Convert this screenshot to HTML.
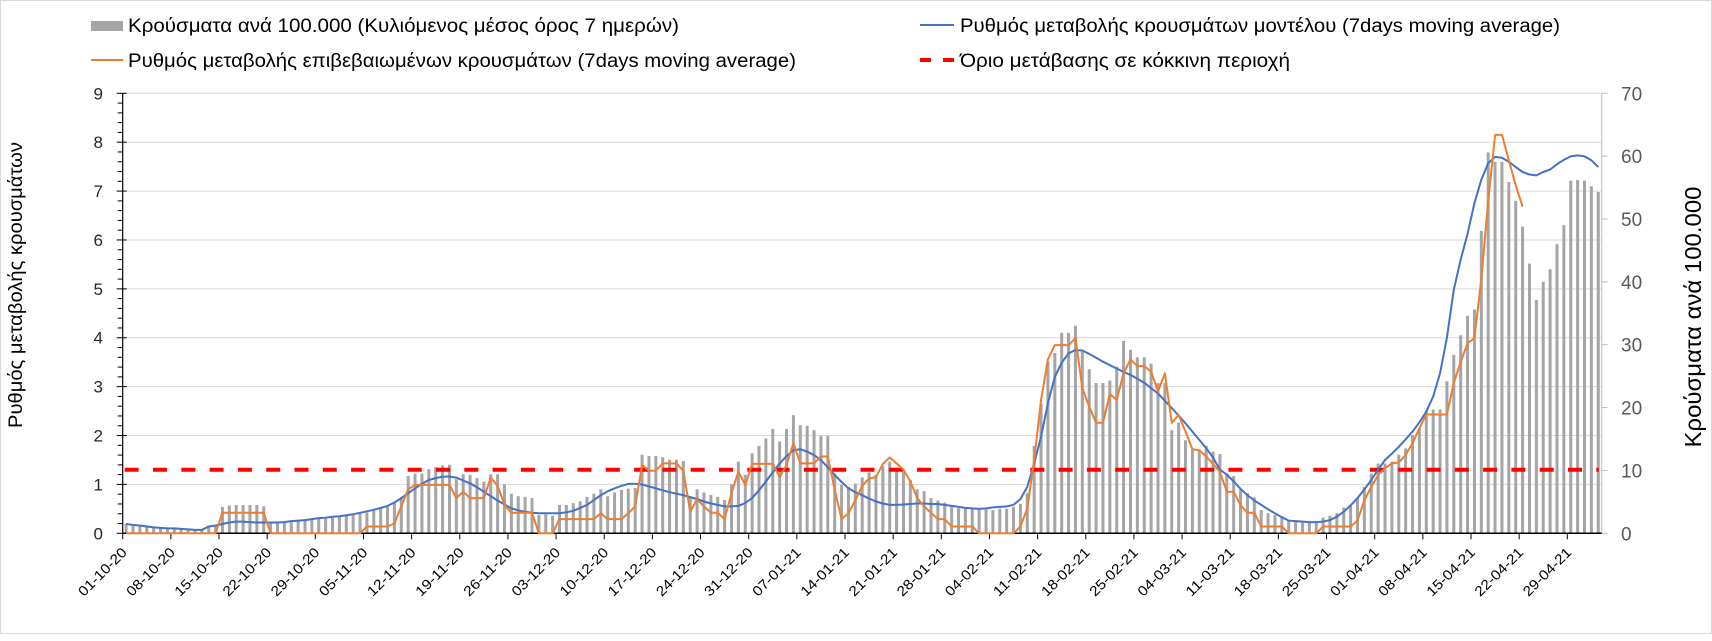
<!DOCTYPE html>
<html><head><meta charset="utf-8">
<style>
html,body{margin:0;padding:0;background:#fff;}
svg{display:block;font-family:"Liberation Sans","Noto Sans CJK SC",sans-serif;}
</style></head>
<body>
<svg id="chart" width="1712" height="641" viewBox="0 0 1712 641" xmlns="http://www.w3.org/2000/svg">
  <rect x="0.5" y="0.5" width="1711" height="633" fill="#fff" stroke="#d9d9d9"/>
  <g id="grid"></g>
  <g id="bars"></g>
  <g id="axes"></g>
  <g id="lines"></g>
  <g id="legend">
    <g>
      <rect x="91" y="21" width="32" height="10" fill="#a5a5a5"/>
      <text x="128" y="32" font-size="19" fill="#000" textLength="551" lengthAdjust="spacingAndGlyphs">Κρούσματα ανά 100.000 (Κυλιόμενος μέσος όρος 7 ημερών)</text>
    </g>
    <g>
      <line x1="91" y1="60" x2="123" y2="60" stroke="#ed7d31" stroke-width="2"/>
      <text x="128" y="67" font-size="19" fill="#000" textLength="668" lengthAdjust="spacingAndGlyphs">Ρυθμός μεταβολής επιβεβαιωμένων κρουσμάτων (7days moving average)</text>
    </g>
    <g>
      <line x1="920" y1="25" x2="954" y2="25" stroke="#4472c4" stroke-width="2"/>
      <text x="960" y="32" font-size="19" fill="#000" textLength="600" lengthAdjust="spacingAndGlyphs">Ρυθμός μεταβολής κρουσμάτων μοντέλου (7days moving average)</text>
    </g>
    <g>
      <line x1="920" y1="60" x2="931" y2="60" stroke="#ff0000" stroke-width="4"/>
      <line x1="943" y1="60" x2="954" y2="60" stroke="#ff0000" stroke-width="4"/>
      <text x="960" y="67" font-size="19" fill="#000" textLength="330" lengthAdjust="spacingAndGlyphs">Όριο μετάβασης σε κόκκινη περιοχή</text>
    </g>
  </g>
  <text transform="translate(22,285) rotate(-90)" text-anchor="middle" font-size="19" fill="#000" textLength="286" lengthAdjust="spacingAndGlyphs">Ρυθμός μεταβολής κρουσμάτων</text>
  <text transform="translate(1701,317) rotate(-90)" text-anchor="middle" font-size="23" fill="#000" textLength="261" lengthAdjust="spacingAndGlyphs">Κρούσματα ανά 100.000</text>
</svg>
<script>
const cases = [
1.5,1.2,1.1,1.1,0.95,0.9,0.8,
0.8,0.8,0.5,0.5,0.6,1.2,1.1,
4.2,4.4,4.5,4.5,4.5,4.5,4.3,
1.6,1.7,1.7,1.9,2.0,2.1,2.2,
2.3,2.3,2.6,2.7,2.8,2.9,3.1,
3.3,3.6,4.0,4.2,4.8,5.6,9.1,
9.5,9.5,10.2,10.5,10.8,10.9,8.6,
9.4,9.3,8.8,8.2,9.4,9.4,7.8,
6.3,5.9,5.8,5.6,2.9,3.0,2.8,
4.5,4.5,4.8,5.1,5.8,6.3,7.0,
5.9,6.5,6.9,7.1,7.2,12.5,12.3,
12.3,12.1,11.7,11.7,11.5,5.7,7.0,
6.5,6.1,5.8,5.3,7.8,11.4,9.3,
12.7,13.9,15.1,16.6,14.6,16.6,18.8,
17.2,17.1,16.4,15.5,15.5,9.5,7.7,
7.4,7.9,8.9,9.7,9.3,10.7,11.4,
10.3,9.8,8.5,7.0,6.7,5.6,5.2,
4.9,4.2,4.0,4.0,4.1,3.8,3.8,
3.7,3.9,3.9,4.2,4.7,6.4,13.9,
20.6,27.3,28.7,31.9,31.9,33.0,28.9,
26.1,23.9,23.9,24.3,26.5,30.6,29.2,
28.0,28.0,27.0,23.9,23.9,16.4,17.6,
14.8,13.3,13.3,13.9,13.0,12.6,9.5,
9.1,7.0,6.4,5.7,3.7,3.2,2.9,
2.7,2.0,1.9,1.7,1.7,1.7,2.5,
2.8,3.2,4.1,4.5,5.6,7.4,9.5,
11.1,11.1,11.4,12.5,13.5,15.6,16.7,
19.4,19.7,19.7,24.2,28.4,31.5,34.6,
35.6,48.1,60.6,59.1,59.1,55.9,52.9,
48.8,42.9,37.1,40.0,42.0,46.0,49.0,
56.1,56.2,56.1,55.2,54.3];
const modelRate = [
0.19,0.17,0.16,0.14,0.12,0.11,0.10,
0.10,0.09,0.08,0.07,0.07,0.14,0.16,
0.19,0.22,0.24,0.24,0.23,0.22,0.22,
0.22,0.22,0.23,0.25,0.26,0.27,0.29,
0.31,0.32,0.34,0.35,0.37,0.39,0.42,
0.45,0.48,0.52,0.56,0.63,0.72,0.82,
0.92,1.01,1.09,1.13,1.16,1.16,1.14,
1.08,1.02,0.94,0.85,0.76,0.67,0.59,
0.51,0.47,0.44,0.42,0.41,0.41,0.41,
0.41,0.43,0.46,0.52,0.58,0.68,0.78,
0.86,0.92,0.97,1.01,1.01,1.0,0.96,
0.92,0.88,0.84,0.81,0.78,0.74,0.7,
0.65,0.61,0.58,0.55,0.55,0.56,0.62,
0.72,0.88,1.06,1.25,1.43,1.58,1.7,
1.72,1.67,1.6,1.5,1.35,1.19,1.05,
0.92,0.84,0.78,0.71,0.65,0.61,0.58,
0.58,0.59,0.6,0.61,0.61,0.6,0.6,
0.58,0.56,0.54,0.52,0.51,0.5,0.51,
0.53,0.54,0.55,0.58,0.7,0.95,1.43,
1.98,2.66,3.2,3.49,3.68,3.75,3.74,
3.67,3.59,3.51,3.44,3.37,3.3,3.24,
3.16,3.08,2.97,2.86,2.71,2.56,2.41,
2.25,2.08,1.91,1.74,1.55,1.3,1.2,
1.06,0.91,0.78,0.67,0.58,0.49,0.41,
0.33,0.26,0.25,0.24,0.23,0.23,0.24,
0.27,0.34,0.44,0.57,0.72,0.9,1.09,
1.3,1.5,1.63,1.77,1.92,2.08,2.27,
2.49,2.8,3.27,4.0,4.98,5.6,6.13,
6.75,7.23,7.57,7.7,7.68,7.6,7.49,
7.39,7.34,7.32,7.39,7.44,7.55,7.64,
7.71,7.73,7.71,7.63,7.49];
const confirmedRate = [
0,0,0,0,0,0,0,
0,0,0,0,0,0,0,
0.42,0.42,0.42,0.42,0.42,0.42,0.42,
0,0,0,0,0,0,0,
0,0,0,0,0,0,0,
0.14,0.14,0.14,0.14,0.2,0.55,0.9,
0.99,0.99,0.99,0.99,0.99,0.99,0.72,
0.85,0.72,0.72,0.72,1.14,0.97,0.58,
0.42,0.42,0.42,0.42,0,0,0,
0.29,0.29,0.29,0.29,0.29,0.29,0.41,
0.29,0.29,0.29,0.41,0.55,1.4,1.28,
1.28,1.43,1.43,1.43,1.28,0.44,0.7,
0.55,0.42,0.42,0.29,0.82,1.26,0.99,
1.42,1.42,1.42,1.42,1.15,1.4,1.84,
1.43,1.43,1.43,1.57,1.57,0.89,0.29,
0.41,0.68,0.97,1.12,1.15,1.42,1.55,
1.43,1.3,1.06,0.72,0.55,0.42,0.29,
0.29,0.14,0.14,0.14,0.14,0,0,
0,0,0,0,0.14,0.51,1.5,
2.73,3.56,3.85,3.85,3.85,3.99,2.97,
2.59,2.26,2.26,2.85,2.73,3.27,3.56,
3.42,3.42,3.31,2.9,3.27,2.26,2.42,
2.08,1.72,1.7,1.57,1.42,1.26,0.85,
0.85,0.58,0.42,0.42,0.14,0.14,0.14,
0.14,0,0,0,0,0,0.14,
0.14,0.14,0.14,0.14,0.26,0.68,0.95,
1.19,1.33,1.43,1.45,1.6,1.84,2.15,
2.43,2.43,2.43,2.43,3.07,3.51,3.89,
3.99,5.2,6.8,8.15,8.15,7.63,7.12,
6.68];
const redThreshold = 1.3;
const xLabels = ["01-10-20","08-10-20","15-10-20","22-10-20","29-10-20","05-11-20","12-11-20","19-11-20","26-11-20","03-12-20","10-12-20","17-12-20","24-12-20","31-12-20","07-01-21","14-01-21","21-01-21","28-01-21","04-02-21","11-02-21","18-02-21","25-02-21","04-03-21","11-03-21","18-03-21","25-03-21","01-04-21","08-04-21","15-04-21","22-04-21","29-04-21"];
const leftTicks = [0,1,2,3,4,5,6,7,8,9];
const rightTicks = [0,10,20,30,40,50,60,70];

const NS = "http://www.w3.org/2000/svg";
const X0 = 122.7, X1 = 1601.7, Y0 = 533.3, YT = 93.3;
const N = 215;
const D = (X1 - X0) / N;
const LMAX = 9, RMAX = 70;
function xBand(i){ return X0 + i * D; }
function xc(i){ return X0 + (i + 0.5) * D; }
function yL(v){ return Y0 - v / LMAX * (Y0 - YT); }
function yR(v){ return Y0 - v / RMAX * (Y0 - YT); }
function mk(tag, attrs, parent){
  const e = document.createElementNS(NS, tag);
  for (const k in attrs) e.setAttribute(k, attrs[k]);
  parent.appendChild(e);
  return e;
}
const grid = document.getElementById('grid');
const bars = document.getElementById('bars');
const axes = document.getElementById('axes');
const lines = document.getElementById('lines');

leftTicks.forEach(t => {
  if (t > 0) {
    const g = mk('line', {x1:X0, x2:X1, y1:yL(t), y2:yL(t), stroke:'#d9d9d9', 'stroke-width':1}, grid);
    
    
  }
  const lab = mk('text', {x:103, y:yL(t)+6, 'text-anchor':'end', 'font-size':17, fill:'#262626'}, axes);
  lab.textContent = t;
  
  
  mk('line', {x1:X0-6, x2:X0+4, y1:yL(t), y2:yL(t), stroke:'#000', 'stroke-width':1}, axes);
  if (t < LMAX) for (let m = 1; m < 5; m++) {
    mk('line', {x1:X0-5, x2:X0, y1:yL(t+m*0.2), y2:yL(t+m*0.2), stroke:'#000', 'stroke-width':1}, axes);
  }
});
rightTicks.forEach(t => {
  const lab = mk('text', {x:1621, y:yR(t)+7, 'font-size':19, fill:'#595959'}, axes);
  lab.textContent = t;
  
  
  mk('line', {x1:X1, x2:X1+6, y1:yR(t), y2:yR(t), stroke:'#bfbfbf', 'stroke-width':1}, axes);
});
const ra = mk('line', {x1:X1, x2:X1, y1:YT, y2:Y0, stroke:'#bfbfbf', 'stroke-width':1}, axes);



cases.forEach((v, i) => {
  const b = mk('rect', {x:xc(i)-1.5, width:3, y:yR(v), height:Y0 - yR(v), fill:'#a5a5a5'}, bars);
  
  
});

const la = mk('line', {x1:X0, x2:X0, y1:YT, y2:Y0, stroke:'#000', 'stroke-width':1.2}, axes);


const xa = mk('line', {x1:X0, x2:X1, y1:Y0, y2:Y0, stroke:'#000', 'stroke-width':1.5}, axes);


xLabels.forEach((s, k) => {
  const tx = xBand(k * 7);
  mk('line', {x1:tx, x2:tx, y1:Y0, y2:Y0+6, stroke:'#000', 'stroke-width':1}, axes);
  const lab = mk('text', {transform:`translate(${tx+5},${Y0+20}) rotate(-45)`, 'text-anchor':'end', 'font-size':14, fill:'#000', textLength:62, lengthAdjust:'spacingAndGlyphs'}, axes);
  lab.textContent = s;
  
  
});

const thr = mk('line', {x1:X0+2, x2:X1-3, y1:yL(redThreshold), y2:yL(redThreshold), stroke:'#ff0000', 'stroke-width':4, 'stroke-dasharray':'14 14.3'}, lines);



function path(arr){
  let d = '';
  arr.forEach((v, i) => { if (v == null) return; d += (d ? 'L' : 'M') + xc(i).toFixed(1) + ',' + yL(v).toFixed(1); });
  return d;
}
const bl = mk('path', {d:path(modelRate), fill:'none', stroke:'#4472c4', 'stroke-width':2, 'stroke-linejoin':'round'}, lines);


const ol = mk('path', {d:path(confirmedRate), fill:'none', stroke:'#ed7d31', 'stroke-width':2, 'stroke-linejoin':'round'}, lines);


</script>
</body></html>
